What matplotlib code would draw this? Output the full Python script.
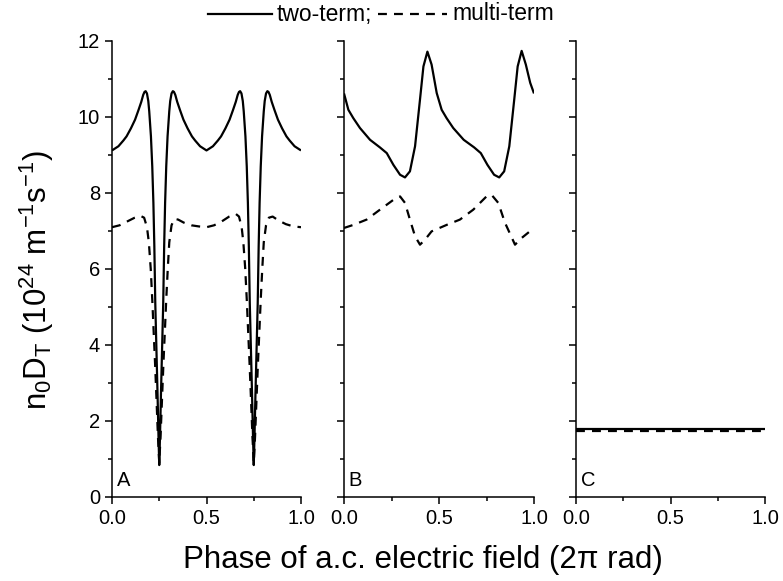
import matplotlib
matplotlib.use("Agg")
import matplotlib.pyplot as plt
from matplotlib.lines import Line2D
from matplotlib.ticker import MultipleLocator

plt.rcParams['font.family'] = ['Liberation Sans', 'DejaVu Sans']
plt.rcParams['mathtext.fontset'] = 'custom'
plt.rcParams['mathtext.rm'] = 'Liberation Sans'
plt.rcParams['mathtext.it'] = 'Liberation Sans'
plt.rcParams['mathtext.default'] = 'regular'

# ---------------- data ----------------
panel_labels = ["A", "B", "C"]
legend_labels = ["two-term;", "multi-term"]
xlabel = "Phase of a.c. electric field (2\u03c0 rad)"
ylabel = r"n$_0$D$_T$ (10$^{24}$ m$^{-1}$s$^{-1}$)"
x_ticks = [0.0, 0.5, 1.0]
x_ticklabels = ["0.0", "0.5", "1.0"]
y_ticks = [0, 2, 4, 6, 8, 10, 12]

# Panel A, two-term
a_two_x = [0.000, 0.034, 0.060, 0.077, 0.100, 0.122, 0.140, 0.155, 0.165, 0.172,
           0.178, 0.185, 0.192, 0.197, 0.206, 0.213, 0.219, 0.224, 0.229, 0.236,
           0.241, 0.246, 0.250, 0.254, 0.259, 0.264, 0.271, 0.276, 0.281, 0.287,
           0.294, 0.303, 0.308, 0.315, 0.322, 0.328, 0.335, 0.345, 0.360, 0.378,
           0.400, 0.423, 0.440, 0.466, 0.500,
           0.534, 0.560, 0.577, 0.600, 0.622, 0.640, 0.655, 0.665, 0.672,
           0.678, 0.685, 0.692, 0.697, 0.706, 0.713, 0.719, 0.724, 0.729, 0.736,
           0.741, 0.746, 0.750, 0.754, 0.759, 0.764, 0.771, 0.776, 0.781, 0.787,
           0.794, 0.803, 0.808, 0.815, 0.822, 0.828, 0.835, 0.845, 0.860, 0.878,
           0.900, 0.923, 0.940, 0.966, 1.000]
a_two_y = [9.12, 9.23, 9.38, 9.49, 9.70, 9.93, 10.18, 10.40, 10.58, 10.66,
           10.68, 10.62, 10.42, 10.15, 9.49, 8.70, 7.74, 6.60, 5.10, 3.70,
           2.70, 1.60, 0.84, 1.60, 2.70, 3.70, 5.10, 6.60, 7.74, 8.70,
           9.49, 10.15, 10.42, 10.62, 10.68, 10.66, 10.58, 10.40, 10.18, 9.93,
           9.70, 9.49, 9.38, 9.23, 9.12,
           9.23, 9.38, 9.49, 9.70, 9.93, 10.18, 10.40, 10.58, 10.66,
           10.68, 10.62, 10.42, 10.15, 9.49, 8.70, 7.74, 6.60, 5.10, 3.70,
           2.70, 1.60, 0.84, 1.60, 2.70, 3.70, 5.10, 6.60, 7.74, 8.70,
           9.49, 10.15, 10.42, 10.62, 10.68, 10.66, 10.58, 10.40, 10.18, 9.93,
           9.70, 9.49, 9.38, 9.23, 9.12]

# Panel A, multi-term
a_multi_x = [0.000, 0.040, 0.080, 0.120, 0.150, 0.170, 0.185, 0.195, 0.205, 0.213,
             0.220, 0.228, 0.236, 0.243, 0.250, 0.257, 0.264, 0.272, 0.280, 0.287,
             0.295, 0.303, 0.315, 0.330, 0.350, 0.380, 0.420, 0.460, 0.500,
             0.540, 0.580, 0.620, 0.655, 0.672, 0.686, 0.695, 0.705, 0.713,
             0.720, 0.728, 0.736, 0.743, 0.750, 0.757, 0.764, 0.772, 0.780, 0.787,
             0.795, 0.803, 0.815, 0.830, 0.850, 0.880, 0.920, 0.960, 1.000]
a_multi_y = [7.10, 7.15, 7.25, 7.35, 7.40, 7.35, 7.10, 6.70, 6.00, 5.20,
             4.40, 3.50, 2.50, 1.60, 0.90, 1.60, 2.50, 3.50, 4.40, 5.20,
             6.00, 6.70, 7.15, 7.32, 7.30, 7.22, 7.15, 7.12, 7.10,
             7.15, 7.25, 7.38, 7.45, 7.38, 7.10, 6.70, 6.00, 5.20,
             4.40, 3.50, 2.50, 1.60, 0.90, 1.60, 2.50, 3.50, 4.40, 5.20,
             6.00, 6.70, 7.15, 7.35, 7.38, 7.28, 7.18, 7.12, 7.10]

# Panel B, two-term
b_two_x = [0.000, 0.023, 0.049, 0.084, 0.137, 0.189, 0.225, 0.260, 0.295, 0.321,
           0.347, 0.374, 0.400, 0.418, 0.439, 0.461, 0.488, 0.514, 0.540, 0.575,
           0.630, 0.685, 0.720, 0.755, 0.790, 0.817, 0.843, 0.870, 0.896, 0.914,
           0.935, 0.957, 0.980, 1.000]
b_two_y = [10.62, 10.19, 9.97, 9.71, 9.40, 9.20, 9.05, 8.74, 8.48, 8.41,
           8.57, 9.23, 10.46, 11.33, 11.72, 11.38, 10.63, 10.19, 9.97, 9.71,
           9.40, 9.20, 9.05, 8.74, 8.48, 8.41, 8.57, 9.23, 10.46, 11.33,
           11.74, 11.38, 10.90, 10.62]

# Panel B, multi-term
b_multi_x = [0.000, 0.049, 0.119, 0.189, 0.260, 0.295, 0.321, 0.347, 0.374, 0.400,
             0.426, 0.461, 0.540, 0.610, 0.680, 0.750, 0.777, 0.812, 0.847, 0.900,
             0.936, 1.000]
b_multi_y = [7.08, 7.16, 7.30, 7.56, 7.82, 7.91, 7.74, 7.30, 6.86, 6.64,
             6.77, 6.99, 7.16, 7.30, 7.56, 7.91, 7.95, 7.74, 7.22, 6.64,
             6.82, 7.08]

# Panel C
c_two_x = [0.0, 1.0]
c_two_y = [1.79, 1.79]
c_multi_x = [0.0, 1.0]
c_multi_y = [1.74, 1.74]

# ---------------- figure ----------------
W, H = 783, 581
fig = plt.figure(figsize=(W / 100, H / 100), dpi=100)

ax_bottom_px, ax_top_px = 497, 41
lefts = [112, 344, 576]
widths = [189, 190, 189]
axes = []
for L, w in zip(lefts, widths):
    ax = fig.add_axes([L / W, (H - ax_bottom_px) / H, w / W,
                       (ax_bottom_px - ax_top_px) / H])
    axes.append(ax)

solid_kw = dict(color='black', lw=1.6, solid_capstyle='butt')
dash_kw = dict(color='black', lw=1.6, linestyle=(0, (4.0, 3.2)))

data = [
    (a_two_x, a_two_y, a_multi_x, a_multi_y),
    (b_two_x, b_two_y, b_multi_x, b_multi_y),
    (c_two_x, c_two_y, c_multi_x, c_multi_y),
]

for i, (ax, (tx, ty, mx, my)) in enumerate(zip(axes, data)):
    ax.plot(tx, ty, **solid_kw)
    ax.plot(mx, my, **dash_kw)
    ax.set_xlim(0, 1.0)
    ax.set_ylim(0, 12)
    ax.spines['top'].set_visible(False)
    ax.spines['right'].set_visible(False)
    for s in ('left', 'bottom'):
        ax.spines[s].set_linewidth(1.1)
    ax.set_xticks(x_ticks)
    ax.set_xticklabels(x_ticklabels)
    ax.xaxis.set_minor_locator(MultipleLocator(0.25))
    ax.set_yticks(y_ticks)
    ax.yaxis.set_minor_locator(MultipleLocator(1))
    ax.tick_params(which='major', direction='out', length=5, width=1.1,
                   labelsize=14.5, pad=3.5)
    ax.tick_params(which='minor', direction='out', length=3, width=1.1)
    if i > 0:
        ax.tick_params(axis='y', labelleft=False)
    ax.text(0.025, 0.015, panel_labels[i], transform=ax.transAxes,
            ha='left', va='bottom', fontsize=14.5)

# x / y labels
fig.text(423 / W, (H - 560) / H, xlabel, ha='center', va='center', fontsize=22.5)
fig.text(37 / W, (H - 280) / H, ylabel, ha='center', va='center',
         rotation=90, fontsize=22.5)

# legend at top
ly = (H - 14) / H
fig.add_artist(Line2D([208 / W, 272 / W], [ly, ly], transform=fig.transFigure,
                      color='black', lw=1.6))
fig.text(277 / W, ly, legend_labels[0], ha='left', va='center', fontsize=16.5)
fig.add_artist(Line2D([378 / W, 447 / W], [ly, ly], transform=fig.transFigure,
                      color='black', lw=1.6, linestyle=(0, (4.0, 3.2))))
fig.text(452 / W, ly, legend_labels[1], ha='left', va='center', fontsize=16.5)

fig.savefig("out.png", dpi=100)
